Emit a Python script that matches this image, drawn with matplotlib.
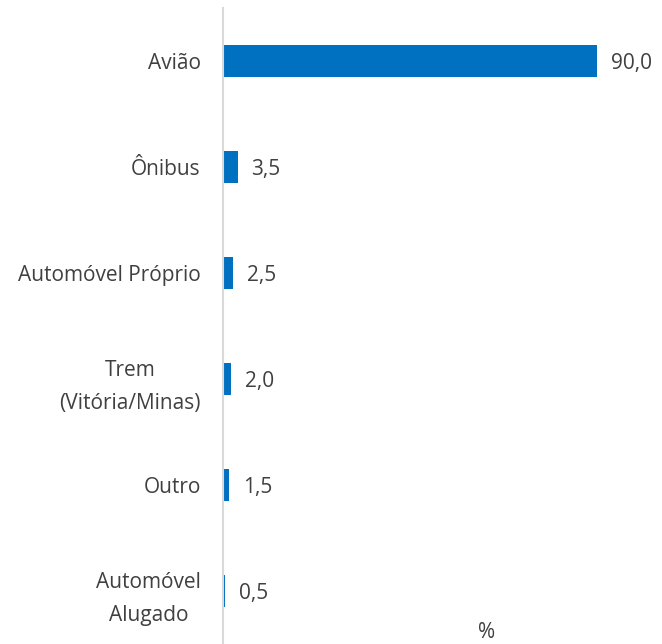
import matplotlib
matplotlib.use("Agg")
import matplotlib.pyplot as plt

categories = ["Avião", "Ônibus", "Automóvel Próprio", "Trem\n(Vitória/Minas)", "Outro", "Automóvel\nAlugado"]
values = [90.0, 3.5, 2.5, 2.0, 1.5, 0.5]
labels = ["90,0", "3,5", "2,5", "2,0", "1,5", "0,5"]

plt.rcParams['font.family'] = ['Open Sans', 'DejaVu Sans']

fig = plt.figure(figsize=(6.62, 6.44), dpi=100)
W, H = 662, 644
ax = fig.add_axes([223 / W, 0, (W - 223) / W, (644 - 8) / H])

ypos = list(range(len(categories)))
ax.barh(ypos, values, height=0.3, color="#0070C0")
ax.set_ylim(len(categories) - 0.5, -0.5)
ax.set_xlim(0, (W - 223) / 4.155)

for y, v, l in zip(ypos, values, labels):
    ax.annotate(l, (v, y), xytext=(10, -1.5), textcoords="offset points",
                va="center", ha="left", fontsize=15, color="#404040")

ax.set_yticks(ypos)
ax.set_yticklabels(categories, fontsize=15, color="#404040", ha="right",
                   multialignment="center", linespacing=1.75)
ax.tick_params(axis="y", length=0, pad=16)
ax.set_xticks([])
for s in ["top", "right", "bottom"]:
    ax.spines[s].set_visible(False)
ax.spines["left"].set_color("#D9D9D9")
ax.spines["left"].set_linewidth(1.5)

fig.text(487 / W, 1 - 632 / H, "%", ha="center", va="center", fontsize=15, color="#404040")

fig.savefig("out.png", dpi=100)
